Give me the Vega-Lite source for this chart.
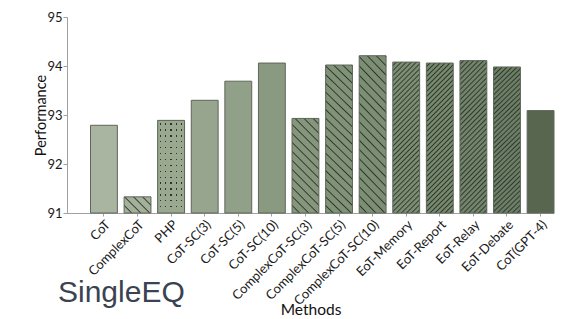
{
"$schema": "https://vega.github.io/schema/vega-lite/v6.json",
"width": 487, "height": 196,
"autosize": {"type": "none"},
"padding": {"left": 67, "top": 17, "right": 8, "bottom": 106},
"background": "white",
"config": {"view": {"stroke": null}, "font": "Lato"},
"title": {"text": "SingleEQ", "orient": "bottom", "anchor": "start", "frame": "group", "font": "Liberation Sans", "fontSize": 30, "fontWeight": "normal", "color": "#3b4352", "dx": -9, "offset": -40},
"data": {"values": [
{"method": "CoT", "performance": 92.79},
{"method": "ComplexCoT", "performance": 91.33},
{"method": "PHP", "performance": 92.89},
{"method": "CoT-SC(3)", "performance": 93.30},
{"method": "CoT-SC(5)", "performance": 93.69},
{"method": "CoT-SC(10)", "performance": 94.06},
{"method": "ComplexCoT-SC(3)", "performance": 92.93},
{"method": "ComplexCoT-SC(5)", "performance": 94.02},
{"method": "ComplexCoT-SC(10)", "performance": 94.21},
{"method": "EoT-Memory", "performance": 94.08},
{"method": "EoT-Report", "performance": 94.06},
{"method": "EoT-Relay", "performance": 94.11},
{"method": "EoT-Debate", "performance": 93.98},
{"method": "CoT(GPT-4)", "performance": 93.09}
]},
"encoding": {
"x": {"field": "method", "type": "nominal",
 "scale": {"domain": ["CoT","ComplexCoT","PHP","CoT-SC(3)","CoT-SC(5)","CoT-SC(10)","ComplexCoT-SC(3)","ComplexCoT-SC(5)","ComplexCoT-SC(10)","EoT-Memory","EoT-Report","EoT-Relay","EoT-Debate","CoT(GPT-4)"], "paddingInner": 0.2, "paddingOuter": 0.35, "align": 1, "round": false},
 "axis": {"title": "Methods", "labelAngle": -45, "labelFontSize": 13, "labelColor": "#1a1a1a", "tickSize": 3, "labelPadding": 2, "domainColor": "#a0a0a0", "tickColor": "#a0a0a0", "titleFontWeight": "normal", "titleFontSize": 15.5, "titleColor": "#111", "titlePadding": -5}},
"y": {"field": "performance", "type": "quantitative",
 "scale": {"domain": [91, 95], "nice": false, "zero": false},
 "axis": {"title": "Performance", "values": [91,92,93,94,95], "grid": false, "tickSize": 4, "labelPadding": 1, "labelFontSize": 13, "labelColor": "#1a1a1a", "domainColor": "#a0a0a0", "tickColor": "#a0a0a0", "titleFontWeight": "normal", "titleFontSize": 14.5, "titleColor": "#111", "titlePadding": -2}},
"y2": {"datum": 91}
},
"layer": [
{"mark": {"type": "bar"},
 "encoding": {"fill": {"field": "method", "type": "nominal", "legend": null,
  "scale": {"domain": ["CoT","ComplexCoT","PHP","CoT-SC(3)","CoT-SC(5)","CoT-SC(10)","ComplexCoT-SC(3)","ComplexCoT-SC(5)","ComplexCoT-SC(10)","EoT-Memory","EoT-Report","EoT-Relay","EoT-Debate","CoT(GPT-4)"],
   "range": ["#a9b5a0","#a3b09a","#2c3328","#97a48e","#91a088","#8a9a81","#85967c","#809278","#7c8e74","#7b8e73","#77896f","#72846b","#6c7e66","#59664f"]}}}},
{"transform": [{"filter": "datum.method === 'PHP'"}],
 "mark": {"type": "bar", "fill": {"gradient": "linear", "x1": 0, "y1": 0, "x2": 1, "y2": 0, "stops": [
 {"offset":0,"color":"#9aa890"},{"offset":0.0763,"color":"#9aa890"},{"offset":0.0763,"color":"rgba(154,168,144,0)"},{"offset":0.1247,"color":"rgba(154,168,144,0)"},{"offset":0.1247,"color":"#9aa890"},
 {"offset":0.2735,"color":"#9aa890"},{"offset":0.2735,"color":"rgba(154,168,144,0)"},{"offset":0.3219,"color":"rgba(154,168,144,0)"},{"offset":0.3219,"color":"#9aa890"},
 {"offset":0.4708,"color":"#9aa890"},{"offset":0.4708,"color":"rgba(154,168,144,0)"},{"offset":0.5192,"color":"rgba(154,168,144,0)"},{"offset":0.5192,"color":"#9aa890"},
 {"offset":0.668,"color":"#9aa890"},{"offset":0.668,"color":"rgba(154,168,144,0)"},{"offset":0.7164,"color":"rgba(154,168,144,0)"},{"offset":0.7164,"color":"#9aa890"},
 {"offset":0.8653,"color":"#9aa890"},{"offset":0.8653,"color":"rgba(154,168,144,0)"},{"offset":0.9137,"color":"rgba(154,168,144,0)"},{"offset":0.9137,"color":"#9aa890"},{"offset":1,"color":"#9aa890"}]}}},
{"transform": [{"filter": "datum.method === 'PHP'"}],
 "mark": {"type": "bar", "fill": {"gradient": "linear", "x1": 0, "y1": 0, "x2": 0, "y2": 1, "stops": [
 {"offset":0,"color":"#9aa890"},
 {"offset":0.0329,"color":"#9aa890"},{"offset":0.0329,"color":"rgba(154,168,144,0)"},{"offset":0.047,"color":"rgba(154,168,144,0)"},{"offset":0.047,"color":"#9aa890"},
 {"offset":0.0966,"color":"#9aa890"},{"offset":0.0966,"color":"rgba(154,168,144,0)"},{"offset":0.1107,"color":"rgba(154,168,144,0)"},{"offset":0.1107,"color":"#9aa890"},
 {"offset":0.1603,"color":"#9aa890"},{"offset":0.1603,"color":"rgba(154,168,144,0)"},{"offset":0.1744,"color":"rgba(154,168,144,0)"},{"offset":0.1744,"color":"#9aa890"},
 {"offset":0.2241,"color":"#9aa890"},{"offset":0.2241,"color":"rgba(154,168,144,0)"},{"offset":0.2381,"color":"rgba(154,168,144,0)"},{"offset":0.2381,"color":"#9aa890"},
 {"offset":0.2878,"color":"#9aa890"},{"offset":0.2878,"color":"rgba(154,168,144,0)"},{"offset":0.3018,"color":"rgba(154,168,144,0)"},{"offset":0.3018,"color":"#9aa890"},
 {"offset":0.3515,"color":"#9aa890"},{"offset":0.3515,"color":"rgba(154,168,144,0)"},{"offset":0.3655,"color":"rgba(154,168,144,0)"},{"offset":0.3655,"color":"#9aa890"},
 {"offset":0.4152,"color":"#9aa890"},{"offset":0.4152,"color":"rgba(154,168,144,0)"},{"offset":0.4292,"color":"rgba(154,168,144,0)"},{"offset":0.4292,"color":"#9aa890"},
 {"offset":0.4789,"color":"#9aa890"},{"offset":0.4789,"color":"rgba(154,168,144,0)"},{"offset":0.4929,"color":"rgba(154,168,144,0)"},{"offset":0.4929,"color":"#9aa890"},
 {"offset":0.5426,"color":"#9aa890"},{"offset":0.5426,"color":"rgba(154,168,144,0)"},{"offset":0.5566,"color":"rgba(154,168,144,0)"},{"offset":0.5566,"color":"#9aa890"},
 {"offset":0.6063,"color":"#9aa890"},{"offset":0.6063,"color":"rgba(154,168,144,0)"},{"offset":0.6203,"color":"rgba(154,168,144,0)"},{"offset":0.6203,"color":"#9aa890"},
 {"offset":0.67,"color":"#9aa890"},{"offset":0.67,"color":"rgba(154,168,144,0)"},{"offset":0.684,"color":"rgba(154,168,144,0)"},{"offset":0.684,"color":"#9aa890"},
 {"offset":0.7337,"color":"#9aa890"},{"offset":0.7337,"color":"rgba(154,168,144,0)"},{"offset":0.7478,"color":"rgba(154,168,144,0)"},{"offset":0.7478,"color":"#9aa890"},
 {"offset":0.7974,"color":"#9aa890"},{"offset":0.7974,"color":"rgba(154,168,144,0)"},{"offset":0.8115,"color":"rgba(154,168,144,0)"},{"offset":0.8115,"color":"#9aa890"},
 {"offset":0.8611,"color":"#9aa890"},{"offset":0.8611,"color":"rgba(154,168,144,0)"},{"offset":0.8752,"color":"rgba(154,168,144,0)"},{"offset":0.8752,"color":"#9aa890"},
 {"offset":0.9248,"color":"#9aa890"},{"offset":0.9248,"color":"rgba(154,168,144,0)"},{"offset":0.9389,"color":"rgba(154,168,144,0)"},{"offset":0.9389,"color":"#9aa890"},
 {"offset":1,"color":"#9aa890"}]}}},
{"transform": [{"filter": "datum.method === 'ComplexCoT'"}],
 "mark": {"type": "bar", "fill": {"gradient": "linear", "x1": 0, "y1": 1, "x2": 1.1759, "y2": 0.2924, "stops": [
 {"offset":0,"color":"rgba(30,38,28,0)"},{"offset":0.1464,"color":"rgba(30,38,28,0)"},{"offset":0.1777,"color":"rgba(30,38,28,0.85)"},
 {"offset":0.2091,"color":"rgba(30,38,28,0)"},{"offset":0.3555,"color":"rgba(30,38,28,0)"},{"offset":0.3868,"color":"rgba(30,38,28,0.85)"},
 {"offset":0.4182,"color":"rgba(30,38,28,0)"},{"offset":0.5646,"color":"rgba(30,38,28,0)"},{"offset":0.5959,"color":"rgba(30,38,28,0.85)"},
 {"offset":0.6273,"color":"rgba(30,38,28,0)"},{"offset":0.7737,"color":"rgba(30,38,28,0)"},{"offset":0.805,"color":"rgba(30,38,28,0.85)"},
 {"offset":0.8364,"color":"rgba(30,38,28,0)"},{"offset":0.9828,"color":"rgba(30,38,28,0)"},{"offset":1,"color":"rgba(30,38,28,0.6)"}]}}},
{"transform": [{"filter": "datum.method === 'ComplexCoT-SC(3)'"}],
 "mark": {"type": "bar", "fill": {"gradient": "linear", "x1": 0, "y1": 1, "x2": 0.3376, "y2": -0.1882, "stops": [
 {"offset":0,"color":"rgba(30,38,28,0)"},{"offset":0.0519,"color":"rgba(30,38,28,0)"},{"offset":0.063,"color":"rgba(30,38,28,0.85)"},
 {"offset":0.0741,"color":"rgba(30,38,28,0)"},{"offset":0.126,"color":"rgba(30,38,28,0)"},{"offset":0.1371,"color":"rgba(30,38,28,0.85)"},
 {"offset":0.1482,"color":"rgba(30,38,28,0)"},{"offset":0.2001,"color":"rgba(30,38,28,0)"},{"offset":0.2112,"color":"rgba(30,38,28,0.85)"},
 {"offset":0.2223,"color":"rgba(30,38,28,0)"},{"offset":0.2742,"color":"rgba(30,38,28,0)"},{"offset":0.2853,"color":"rgba(30,38,28,0.85)"},
 {"offset":0.2964,"color":"rgba(30,38,28,0)"},{"offset":0.3483,"color":"rgba(30,38,28,0)"},{"offset":0.3594,"color":"rgba(30,38,28,0.85)"},
 {"offset":0.3706,"color":"rgba(30,38,28,0)"},{"offset":0.4225,"color":"rgba(30,38,28,0)"},{"offset":0.4336,"color":"rgba(30,38,28,0.85)"},
 {"offset":0.4447,"color":"rgba(30,38,28,0)"},{"offset":0.4966,"color":"rgba(30,38,28,0)"},{"offset":0.5077,"color":"rgba(30,38,28,0.85)"},
 {"offset":0.5188,"color":"rgba(30,38,28,0)"},{"offset":0.5707,"color":"rgba(30,38,28,0)"},{"offset":0.5818,"color":"rgba(30,38,28,0.85)"},
 {"offset":0.5929,"color":"rgba(30,38,28,0)"},{"offset":0.6448,"color":"rgba(30,38,28,0)"},{"offset":0.6559,"color":"rgba(30,38,28,0.85)"},
 {"offset":0.667,"color":"rgba(30,38,28,0)"},{"offset":0.7189,"color":"rgba(30,38,28,0)"},{"offset":0.73,"color":"rgba(30,38,28,0.85)"},
 {"offset":0.7411,"color":"rgba(30,38,28,0)"},{"offset":0.793,"color":"rgba(30,38,28,0)"},{"offset":0.8041,"color":"rgba(30,38,28,0.85)"},
 {"offset":0.8152,"color":"rgba(30,38,28,0)"},{"offset":0.8671,"color":"rgba(30,38,28,0)"},{"offset":0.8782,"color":"rgba(30,38,28,0.85)"},
 {"offset":0.8893,"color":"rgba(30,38,28,0)"},{"offset":0.9412,"color":"rgba(30,38,28,0)"},{"offset":0.9523,"color":"rgba(30,38,28,0.85)"},
 {"offset":0.9634,"color":"rgba(30,38,28,0)"},{"offset":1,"color":"rgba(30,38,28,0)"}]}}},
{"transform": [{"filter": "datum.method === 'ComplexCoT-SC(5)' || datum.method === 'ComplexCoT-SC(10)'"}],
 "mark": {"type": "bar", "fill": {"gradient": "linear", "x1": 0, "y1": 1, "x2": 0.2009, "y2": -0.1407, "stops": [
 {"offset":0,"color":"rgba(30,38,28,0)"},{"offset":0.0351,"color":"rgba(30,38,28,0)"},{"offset":0.0426,"color":"rgba(30,38,28,0.85)"},
 {"offset":0.0501,"color":"rgba(30,38,28,0)"},{"offset":0.0852,"color":"rgba(30,38,28,0)"},{"offset":0.0927,"color":"rgba(30,38,28,0.85)"},
 {"offset":0.1003,"color":"rgba(30,38,28,0)"},{"offset":0.1354,"color":"rgba(30,38,28,0)"},{"offset":0.1429,"color":"rgba(30,38,28,0.85)"},
 {"offset":0.1504,"color":"rgba(30,38,28,0)"},{"offset":0.1855,"color":"rgba(30,38,28,0)"},{"offset":0.193,"color":"rgba(30,38,28,0.85)"},
 {"offset":0.2006,"color":"rgba(30,38,28,0)"},{"offset":0.2357,"color":"rgba(30,38,28,0)"},{"offset":0.2432,"color":"rgba(30,38,28,0.85)"},
 {"offset":0.2507,"color":"rgba(30,38,28,0)"},{"offset":0.2858,"color":"rgba(30,38,28,0)"},{"offset":0.2933,"color":"rgba(30,38,28,0.85)"},
 {"offset":0.3009,"color":"rgba(30,38,28,0)"},{"offset":0.336,"color":"rgba(30,38,28,0)"},{"offset":0.3435,"color":"rgba(30,38,28,0.85)"},
 {"offset":0.351,"color":"rgba(30,38,28,0)"},{"offset":0.3861,"color":"rgba(30,38,28,0)"},{"offset":0.3936,"color":"rgba(30,38,28,0.85)"},
 {"offset":0.4012,"color":"rgba(30,38,28,0)"},{"offset":0.4363,"color":"rgba(30,38,28,0)"},{"offset":0.4438,"color":"rgba(30,38,28,0.85)"},
 {"offset":0.4513,"color":"rgba(30,38,28,0)"},{"offset":0.4864,"color":"rgba(30,38,28,0)"},{"offset":0.4939,"color":"rgba(30,38,28,0.85)"},
 {"offset":0.5015,"color":"rgba(30,38,28,0)"},{"offset":0.5366,"color":"rgba(30,38,28,0)"},{"offset":0.5441,"color":"rgba(30,38,28,0.85)"},
 {"offset":0.5516,"color":"rgba(30,38,28,0)"},{"offset":0.5867,"color":"rgba(30,38,28,0)"},{"offset":0.5942,"color":"rgba(30,38,28,0.85)"},
 {"offset":0.6018,"color":"rgba(30,38,28,0)"},{"offset":0.6369,"color":"rgba(30,38,28,0)"},{"offset":0.6444,"color":"rgba(30,38,28,0.85)"},
 {"offset":0.6519,"color":"rgba(30,38,28,0)"},{"offset":0.687,"color":"rgba(30,38,28,0)"},{"offset":0.6945,"color":"rgba(30,38,28,0.85)"},
 {"offset":0.7021,"color":"rgba(30,38,28,0)"},{"offset":0.7372,"color":"rgba(30,38,28,0)"},{"offset":0.7447,"color":"rgba(30,38,28,0.85)"},
 {"offset":0.7522,"color":"rgba(30,38,28,0)"},{"offset":0.7873,"color":"rgba(30,38,28,0)"},{"offset":0.7948,"color":"rgba(30,38,28,0.85)"},
 {"offset":0.8024,"color":"rgba(30,38,28,0)"},{"offset":0.8375,"color":"rgba(30,38,28,0)"},{"offset":0.845,"color":"rgba(30,38,28,0.85)"},
 {"offset":0.8525,"color":"rgba(30,38,28,0)"},{"offset":0.8876,"color":"rgba(30,38,28,0)"},{"offset":0.8951,"color":"rgba(30,38,28,0.85)"},
 {"offset":0.9027,"color":"rgba(30,38,28,0)"},{"offset":0.9378,"color":"rgba(30,38,28,0)"},{"offset":0.9453,"color":"rgba(30,38,28,0.85)"},
 {"offset":0.9528,"color":"rgba(30,38,28,0)"},{"offset":0.9879,"color":"rgba(30,38,28,0)"},{"offset":0.9954,"color":"rgba(30,38,28,0.85)"},
 {"offset":1,"color":"rgba(30,38,28,0.3)"}]}}},
{"transform": [{"filter": "indexof(datum.method, 'EoT') === 0"}],
 "mark": {"type": "bar", "fill": {"gradient": "linear", "x1": 0, "y1": 0, "x2": 0.2047, "y2": 1.1425, "stops": [
 {"offset":0,"color":"rgba(30,38,28,0)"},{"offset":0.0127,"color":"rgba(30,38,28,0)"},{"offset":0.0204,"color":"rgba(30,38,28,0.8)"},
 {"offset":0.0283,"color":"rgba(30,38,28,0)"},{"offset":0.041,"color":"rgba(30,38,28,0)"},{"offset":0.0487,"color":"rgba(30,38,28,0.8)"},
 {"offset":0.0565,"color":"rgba(30,38,28,0)"},{"offset":0.0692,"color":"rgba(30,38,28,0)"},{"offset":0.0769,"color":"rgba(30,38,28,0.8)"},
 {"offset":0.0848,"color":"rgba(30,38,28,0)"},{"offset":0.0975,"color":"rgba(30,38,28,0)"},{"offset":0.1052,"color":"rgba(30,38,28,0.8)"},
 {"offset":0.1131,"color":"rgba(30,38,28,0)"},{"offset":0.1258,"color":"rgba(30,38,28,0)"},{"offset":0.1335,"color":"rgba(30,38,28,0.8)"},
 {"offset":0.1413,"color":"rgba(30,38,28,0)"},{"offset":0.154,"color":"rgba(30,38,28,0)"},{"offset":0.1617,"color":"rgba(30,38,28,0.8)"},
 {"offset":0.1696,"color":"rgba(30,38,28,0)"},{"offset":0.1823,"color":"rgba(30,38,28,0)"},{"offset":0.19,"color":"rgba(30,38,28,0.8)"},
 {"offset":0.1979,"color":"rgba(30,38,28,0)"},{"offset":0.2106,"color":"rgba(30,38,28,0)"},{"offset":0.2183,"color":"rgba(30,38,28,0.8)"},
 {"offset":0.2262,"color":"rgba(30,38,28,0)"},{"offset":0.2389,"color":"rgba(30,38,28,0)"},{"offset":0.2466,"color":"rgba(30,38,28,0.8)"},
 {"offset":0.2544,"color":"rgba(30,38,28,0)"},{"offset":0.2671,"color":"rgba(30,38,28,0)"},{"offset":0.2748,"color":"rgba(30,38,28,0.8)"},
 {"offset":0.2827,"color":"rgba(30,38,28,0)"},{"offset":0.2954,"color":"rgba(30,38,28,0)"},{"offset":0.3031,"color":"rgba(30,38,28,0.8)"},
 {"offset":0.311,"color":"rgba(30,38,28,0)"},{"offset":0.3237,"color":"rgba(30,38,28,0)"},{"offset":0.3314,"color":"rgba(30,38,28,0.8)"},
 {"offset":0.3392,"color":"rgba(30,38,28,0)"},{"offset":0.3519,"color":"rgba(30,38,28,0)"},{"offset":0.3596,"color":"rgba(30,38,28,0.8)"},
 {"offset":0.3675,"color":"rgba(30,38,28,0)"},{"offset":0.3802,"color":"rgba(30,38,28,0)"},{"offset":0.3879,"color":"rgba(30,38,28,0.8)"},
 {"offset":0.3958,"color":"rgba(30,38,28,0)"},{"offset":0.4085,"color":"rgba(30,38,28,0)"},{"offset":0.4162,"color":"rgba(30,38,28,0.8)"},
 {"offset":0.424,"color":"rgba(30,38,28,0)"},{"offset":0.4367,"color":"rgba(30,38,28,0)"},{"offset":0.4444,"color":"rgba(30,38,28,0.8)"},
 {"offset":0.4523,"color":"rgba(30,38,28,0)"},{"offset":0.465,"color":"rgba(30,38,28,0)"},{"offset":0.4727,"color":"rgba(30,38,28,0.8)"},
 {"offset":0.4806,"color":"rgba(30,38,28,0)"},{"offset":0.4933,"color":"rgba(30,38,28,0)"},{"offset":0.501,"color":"rgba(30,38,28,0.8)"},
 {"offset":0.5088,"color":"rgba(30,38,28,0)"},{"offset":0.5215,"color":"rgba(30,38,28,0)"},{"offset":0.5292,"color":"rgba(30,38,28,0.8)"},
 {"offset":0.5371,"color":"rgba(30,38,28,0)"},{"offset":0.5498,"color":"rgba(30,38,28,0)"},{"offset":0.5575,"color":"rgba(30,38,28,0.8)"},
 {"offset":0.5654,"color":"rgba(30,38,28,0)"},{"offset":0.5781,"color":"rgba(30,38,28,0)"},{"offset":0.5858,"color":"rgba(30,38,28,0.8)"},
 {"offset":0.5936,"color":"rgba(30,38,28,0)"},{"offset":0.6063,"color":"rgba(30,38,28,0)"},{"offset":0.614,"color":"rgba(30,38,28,0.8)"},
 {"offset":0.6219,"color":"rgba(30,38,28,0)"},{"offset":0.6346,"color":"rgba(30,38,28,0)"},{"offset":0.6423,"color":"rgba(30,38,28,0.8)"},
 {"offset":0.6502,"color":"rgba(30,38,28,0)"},{"offset":0.6629,"color":"rgba(30,38,28,0)"},{"offset":0.6706,"color":"rgba(30,38,28,0.8)"},
 {"offset":0.6785,"color":"rgba(30,38,28,0)"},{"offset":0.6912,"color":"rgba(30,38,28,0)"},{"offset":0.6989,"color":"rgba(30,38,28,0.8)"},
 {"offset":0.7067,"color":"rgba(30,38,28,0)"},{"offset":0.7194,"color":"rgba(30,38,28,0)"},{"offset":0.7271,"color":"rgba(30,38,28,0.8)"},
 {"offset":0.735,"color":"rgba(30,38,28,0)"},{"offset":0.7477,"color":"rgba(30,38,28,0)"},{"offset":0.7554,"color":"rgba(30,38,28,0.8)"},
 {"offset":0.7633,"color":"rgba(30,38,28,0)"},{"offset":0.776,"color":"rgba(30,38,28,0)"},{"offset":0.7837,"color":"rgba(30,38,28,0.8)"},
 {"offset":0.7915,"color":"rgba(30,38,28,0)"},{"offset":0.8042,"color":"rgba(30,38,28,0)"},{"offset":0.8119,"color":"rgba(30,38,28,0.8)"},
 {"offset":0.8198,"color":"rgba(30,38,28,0)"},{"offset":0.8325,"color":"rgba(30,38,28,0)"},{"offset":0.8402,"color":"rgba(30,38,28,0.8)"},
 {"offset":0.8481,"color":"rgba(30,38,28,0)"},{"offset":0.8608,"color":"rgba(30,38,28,0)"},{"offset":0.8685,"color":"rgba(30,38,28,0.8)"},
 {"offset":0.8763,"color":"rgba(30,38,28,0)"},{"offset":0.889,"color":"rgba(30,38,28,0)"},{"offset":0.8967,"color":"rgba(30,38,28,0.8)"},
 {"offset":0.9046,"color":"rgba(30,38,28,0)"},{"offset":0.9173,"color":"rgba(30,38,28,0)"},{"offset":0.925,"color":"rgba(30,38,28,0.8)"},
 {"offset":0.9329,"color":"rgba(30,38,28,0)"},{"offset":0.9456,"color":"rgba(30,38,28,0)"},{"offset":0.9533,"color":"rgba(30,38,28,0.8)"},
 {"offset":0.9611,"color":"rgba(30,38,28,0)"},{"offset":0.9738,"color":"rgba(30,38,28,0)"},{"offset":0.9815,"color":"rgba(30,38,28,0.8)"},
 {"offset":0.9894,"color":"rgba(30,38,28,0)"},{"offset":1,"color":"rgba(30,38,28,0)"}]}}},
{"mark": {"type": "bar", "fill": "transparent", "stroke": "#5f665a", "strokeWidth": 1}}
]
}
